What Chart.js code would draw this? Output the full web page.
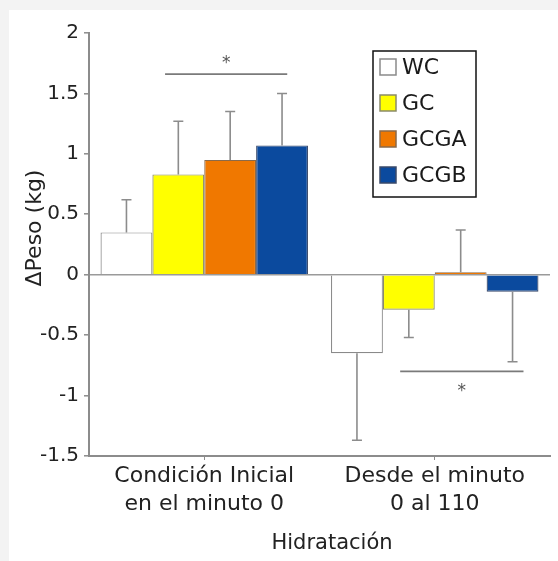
<!DOCTYPE html>
<html>
<head>
<meta charset="utf-8">
<script src="https://cdn.jsdelivr.net/npm/chart.js@4.4.1/dist/chart.umd.min.js"></script>
<style>
  html, body { margin: 0; padding: 0; background: #f3f3f3; }
  #wrap { position: absolute; left: 9px; top: 10px; width: 549px; height: 551px; background: #fff; }
</style>
</head>
<body>
<div id="wrap"><canvas id="chart"></canvas></div>
<script>
// categorías y grupos
const categories = [['Condición Inicial', 'en el minuto 0'], ['Desde el minuto', '0 al 110']];
const groups = ['WC', 'GC', 'GCGA', 'GCGB'];

// medias (kg)
const wc = [0.35, -0.65];
const gc = [0.83, -0.29];
const gcga = [0.95, 0.02];
const gcgb = [1.07, -0.14];

// extremo de la barra de error (kg)
const wcErr = [0.62, -1.37];
const gcErr = [1.27, -0.52];
const gcgaErr = [1.35, 0.37];
const gcgbErr = [1.50, -0.72];

const yTicks = [-1.5, -1, -0.5, 0, 0.5, 1, 1.5, 2];

// diferencias significativas (índice de categoría / kg)
const sigFrom = [-0.17, 0.85];
const sigTo = [0.36, 1.385];
const sigY = [1.66, -0.80];
const starY = [1.78, -0.93];

const fills = ['#ffffff', '#ffff00', '#f07800', '#0b4a9e'];
const edges = ['#8a8a8a', '#8a8a6a', '#8a6a4a', '#3a4a6a'];
const FONT = 'DejaVu Sans';

const overlay = {
  id: 'overlay',
  afterDatasetsDraw(chart) {
    const ctx = chart.ctx;
    const x = chart.scales.x, y = chart.scales.y;
    ctx.save();
    // barras de error
    ctx.strokeStyle = '#8c8c8c';
    ctx.lineWidth = 1.6;
    chart.data.datasets.forEach((ds, i) => {
      const meta = chart.getDatasetMeta(i);
      meta.data.forEach((bar, j) => {
        const y0 = y.getPixelForValue(ds.data[j]);
        const y1 = y.getPixelForValue(ds.err[j]);
        ctx.beginPath();
        ctx.moveTo(bar.x, y0);
        ctx.lineTo(bar.x, y1);
        ctx.moveTo(bar.x - 5, y1);
        ctx.lineTo(bar.x + 5, y1);
        ctx.stroke();
      });
    });
    // líneas de significancia
    ctx.strokeStyle = '#7a7a7a';
    ctx.lineWidth = 1.6;
    ctx.fillStyle = '#555';
    ctx.font = '17px ' + FONT;
    ctx.textAlign = 'center';
    ctx.textBaseline = 'middle';
    sigY.forEach((v, k) => {
      const xa = x.getPixelForValue(sigFrom[k]);
      const xb = x.getPixelForValue(sigTo[k]);
      const py = y.getPixelForValue(v);
      ctx.beginPath();
      ctx.moveTo(xa, py);
      ctx.lineTo(xb, py);
      ctx.stroke();
      ctx.fillText('*', (xa + xb) / 2, y.getPixelForValue(starY[k]) + 4);
    });
    ctx.restore();
  },
  afterDraw(chart) {
    const ctx = chart.ctx;
    ctx.save();
    // leyenda
    ctx.strokeStyle = '#111';
    ctx.lineWidth = 1.5;
    ctx.strokeRect(364, 41, 103, 146);
    ctx.font = '22px ' + FONT;
    ctx.textAlign = 'left';
    ctx.textBaseline = 'middle';
    groups.forEach((g, i) => {
      const cy = 57 + i * 36;
      ctx.fillStyle = fills[i];
      ctx.fillRect(371, cy - 8, 16, 16);
      ctx.strokeStyle = edges[i];
      ctx.lineWidth = 1.5;
      ctx.strokeRect(371, cy - 8, 16, 16);
      ctx.fillStyle = '#1a1a1a';
      ctx.fillText(g, 393, cy + 1);
    });
    // títulos de ejes
    ctx.fillStyle = '#222';
    ctx.textAlign = 'center';
    ctx.font = '21px ' + FONT;
    ctx.fillText('Hidratación', 323, 534);
    ctx.font = '22px ' + FONT;
    ctx.translate(26, 218);
    ctx.rotate(-Math.PI / 2);
    ctx.fillText('ΔPeso (kg)', 0, 0);
    ctx.restore();
  }
};

const sets = [wc, gc, gcga, gcgb];
const errs = [wcErr, gcErr, gcgaErr, gcgbErr];

new Chart(document.getElementById('chart'), {
  type: 'bar',
  data: {
    labels: categories,
    datasets: groups.map((g, i) => ({
      label: g,
      data: sets[i],
      err: errs[i],
      backgroundColor: fills[i],
      borderColor: edges[i],
      borderWidth: 1.2,
      categoryPercentage: 0.9,
      barPercentage: 1.0
    }))
  },
  options: {
    responsive: true,
    maintainAspectRatio: false,
    animation: false,
    layout: { padding: { top: 23, right: 8, left: 0, bottom: 0 } },
    plugins: {
      legend: { display: false },
      tooltip: { enabled: false }
    },
    scales: {
      x: {
        afterFit(s) { s.height = 105; },
        border: { display: true, color: '#8c8c8c', width: 2 },
        grid: { drawOnChartArea: false, offset: false, tickLength: 4, color: '#8c8c8c' },
        ticks: { color: '#222', padding: 3, font: { family: FONT, size: 22, lineHeight: 1.25 }, maxRotation: 0 }
      },
      y: {
        min: -1.5,
        max: 2,
        afterFit(s) { s.width = 80; },
        afterBuildTicks(s) { s.ticks = yTicks.map(v => ({ value: v })); },
        border: { display: true, color: '#8c8c8c', width: 2 },
        grid: {
          color: c => (c.tick && c.tick.value === 0 ? '#9a9a9a' : 'rgba(0,0,0,0)'),
          lineWidth: 1.6,
          tickLength: 5,
          tickColor: '#8c8c8c',
          tickWidth: 1.5
        },
        ticks: { color: '#222', padding: 5, font: { family: FONT, size: 20 }, callback: v => String(v) }
      }
    }
  },
  plugins: [overlay]
});
</script>
</body>
</html>
